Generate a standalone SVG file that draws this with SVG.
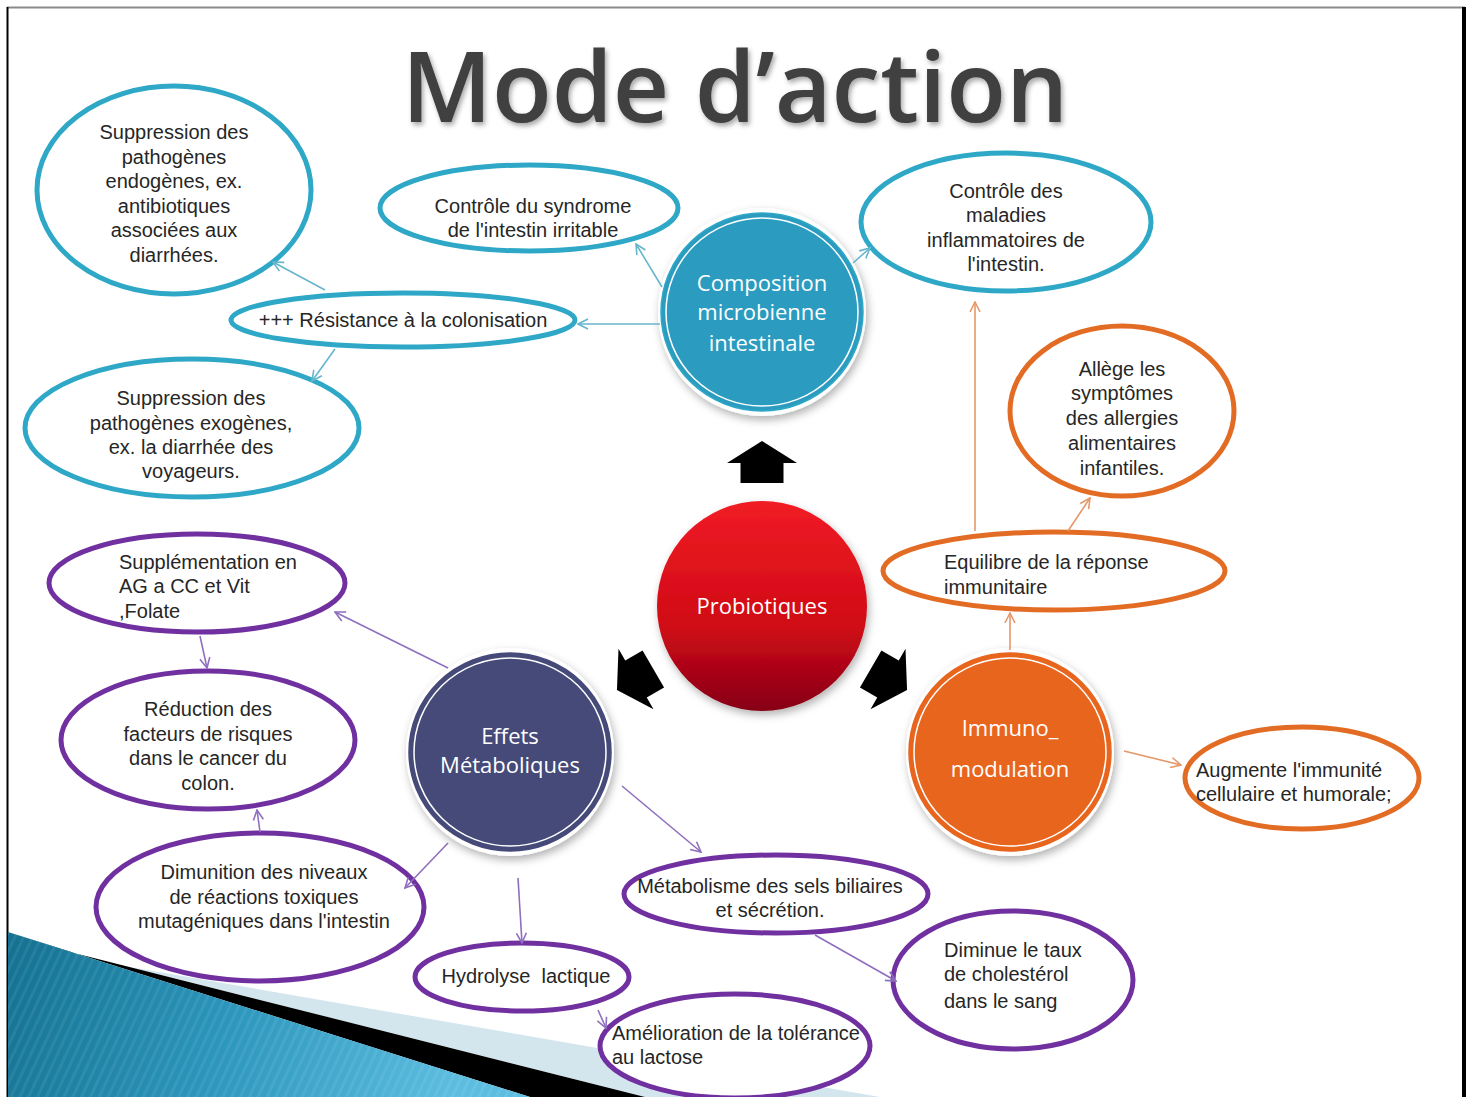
<svg xmlns="http://www.w3.org/2000/svg" width="1472" height="1097" viewBox="0 0 1472 1097">
<defs>
<style>
.lbl{font-family:"Liberation Sans",Arial,sans-serif;font-size:20px;fill:#262626;}
.c{text-anchor:middle;}
.big{font-family:"Open Sans","Noto Sans",sans-serif;font-size:22px;fill:#ffffff;text-anchor:middle;}
.et{fill:#ffffff;stroke:#2ea8c6;stroke-width:5;}
.eo{fill:#ffffff;stroke:#e36c25;stroke-width:5;}
.ep{fill:#ffffff;stroke:#7030a0;stroke-width:5;}
.lt{fill:none;stroke:#66b6cc;stroke-width:1.6;marker-end:url(#mt);}
.lo{fill:none;stroke:#e4986a;stroke-width:1.6;marker-end:url(#mo);}
.lp{fill:none;stroke:#8f6fbf;stroke-width:1.6;marker-end:url(#mp);}
.blk{fill:#000000;}
</style>
<marker id="mt" viewBox="0 0 12 12" refX="11" refY="6" markerWidth="12" markerHeight="12" markerUnits="userSpaceOnUse" orient="auto"><path d="M1,1 L11,6 L1,11" fill="none" stroke="#66b6cc" stroke-width="1.6"/></marker>
<marker id="mo" viewBox="0 0 12 12" refX="11" refY="6" markerWidth="12" markerHeight="12" markerUnits="userSpaceOnUse" orient="auto"><path d="M1,1 L11,6 L1,11" fill="none" stroke="#e4986a" stroke-width="1.6"/></marker>
<marker id="mp" viewBox="0 0 12 12" refX="11" refY="6" markerWidth="12" markerHeight="12" markerUnits="userSpaceOnUse" orient="auto"><path d="M1,1 L11,6 L1,11" fill="none" stroke="#8f6fbf" stroke-width="1.6"/></marker>
<filter id="sh" x="-20%" y="-20%" width="140%" height="140%"><feDropShadow dx="2" dy="4" stdDeviation="4" flood-color="#000" flood-opacity="0.3"/></filter>
<filter id="tsh" x="-5%" y="-10%" width="110%" height="130%"><feDropShadow dx="2" dy="3" stdDeviation="2.5" flood-color="#000" flood-opacity="0.35"/></filter>
<linearGradient id="gr" x1="0" y1="0" x2="0" y2="1"><stop offset="0" stop-color="#f01c24"/><stop offset="0.6" stop-color="#d00a16"/><stop offset="1" stop-color="#860012"/></linearGradient>
<linearGradient id="gb" x1="0" y1="930" x2="450" y2="1097" gradientUnits="userSpaceOnUse"><stop offset="0" stop-color="#136f8e"/><stop offset="0.5" stop-color="#2b95bb"/><stop offset="1" stop-color="#5cbde0"/></linearGradient>
<pattern id="stripes" width="8" height="8" patternUnits="userSpaceOnUse" patternTransform="rotate(25)"><rect width="3" height="8" fill="#ffffff" fill-opacity="0.07"/></pattern>
</defs>
<rect width="1472" height="1097" fill="#ffffff"/>
<!-- frame -->
<line x1="7" y1="7.5" x2="1465" y2="7.5" stroke="#8a8a8a" stroke-width="2"/>
<line x1="7.5" y1="7" x2="7.5" y2="1097" stroke="#000" stroke-width="2"/>
<line x1="1464" y1="7" x2="1464" y2="1097" stroke="#000" stroke-width="4"/>
<!-- bottom-left decoration -->
<g id="decoration">
<polygon points="130,967 880,1097 645,1097 70,952" fill="#d3e5ed"/>
<polygon points="70,952 645,1097 530,1097 8,932" fill="#000000"/>
<polygon points="8,932 530,1097 8,1097" fill="url(#gb)"/>
<polygon points="8,932 530,1097 8,1097" fill="url(#stripes)"/>
</g>
<!-- title -->
<text x="735" y="122" font-family="'Open Sans','Noto Sans',sans-serif" font-size="98" font-weight="600" fill="#404040" text-anchor="middle" filter="url(#tsh)">Mode d’action</text>
<!-- block arrows -->
<g id="arrow-up"><polygon class="blk" transform="translate(762,463)" points="0,-22 35,0 21.5,0 21.5,20 -21.5,20 -21.5,0 -35,0"/></g>
<g id="arrow-left"><polygon class="blk" transform="translate(636,679) rotate(-120)" points="0,-22 35,0 21.5,0 21.5,20 -21.5,20 -21.5,0 -35,0"/></g>
<g id="arrow-right"><polygon class="blk" transform="translate(888,679) rotate(120)" points="0,-22 35,0 21.5,0 21.5,20 -21.5,20 -21.5,0 -35,0"/></g>
<!-- main circles -->
<g id="n-composition">
<circle cx="762" cy="312" r="104" fill="#ffffff" filter="url(#sh)"/>
<ellipse cx="762" cy="312" rx="101" ry="99" fill="#2b9cc0" stroke="#2ea8c6" stroke-width="1.5"/>
<ellipse cx="762" cy="312" rx="96" ry="94" fill="none" stroke="#ffffff" stroke-width="1.5"/>
<text class="big" x="762" y="291">Composition</text>
<text class="big" x="762" y="320">microbienne</text>
<text class="big" x="762" y="351">intestinale</text>
</g>
<g id="n-probiotiques">
<circle cx="762" cy="606" r="105" fill="url(#gr)" filter="url(#sh)"/>
<text class="big" x="762" y="614">Probiotiques</text>
</g>
<g id="n-effets">
<circle cx="510" cy="752" r="104" fill="#ffffff" filter="url(#sh)"/>
<ellipse cx="510" cy="752" rx="101" ry="99" fill="#454a79" stroke="#454a79" stroke-width="1.5"/>
<ellipse cx="510" cy="752" rx="96" ry="94" fill="none" stroke="#ffffff" stroke-width="1.5"/>
<text class="big" x="510" y="744">Effets</text>
<text class="big" x="510" y="773">Métaboliques</text>
</g>
<g id="n-immuno">
<circle cx="1010" cy="752" r="104" fill="#ffffff" filter="url(#sh)"/>
<ellipse cx="1010" cy="752" rx="101" ry="99" fill="#e8651e" stroke="#e8651e" stroke-width="1.5"/>
<ellipse cx="1010" cy="752" rx="96" ry="94" fill="none" stroke="#ffffff" stroke-width="1.5"/>
<text class="big" x="1010" y="736">Immuno_</text>
<text class="big" x="1010" y="777">modulation</text>
</g>
<!-- teal ellipses -->
<g id="n-endogenes">
<ellipse class="et" cx="174" cy="190" rx="137" ry="104"/>
<text class="lbl c" x="174" y="139">Suppression des</text>
<text class="lbl c" x="174" y="164">pathogènes</text>
<text class="lbl c" x="174" y="188">endogènes, ex.</text>
<text class="lbl c" x="174" y="213">antibiotiques</text>
<text class="lbl c" x="174" y="237">associées aux</text>
<text class="lbl c" x="174" y="262">diarrhées.</text>
</g>
<g id="n-syndrome">
<ellipse class="et" cx="529" cy="208" rx="149" ry="43"/>
<text class="lbl c" x="533" y="213">Contrôle du syndrome</text>
<text class="lbl c" x="533" y="237">de l'intestin irritable</text>
</g>
<g id="n-resistance">
<ellipse class="et" cx="403" cy="320" rx="172" ry="27"/>
<text class="lbl c" x="403" y="327">+++ Résistance à la colonisation</text>
</g>
<g id="n-exogenes">
<ellipse class="et" cx="192" cy="428" rx="167" ry="69"/>
<text class="lbl c" x="191" y="405">Suppression des</text>
<text class="lbl c" x="191" y="430">pathogènes exogènes,</text>
<text class="lbl c" x="191" y="454">ex. la diarrhée des</text>
<text class="lbl c" x="191" y="478">voyageurs.</text>
</g>
<g id="n-maladies">
<ellipse class="et" cx="1006" cy="222" rx="145" ry="69"/>
<text class="lbl c" x="1006" y="198">Contrôle des</text>
<text class="lbl c" x="1006" y="222">maladies</text>
<text class="lbl c" x="1006" y="247">inflammatoires de</text>
<text class="lbl c" x="1006" y="271">l'intestin.</text>
</g>
<!-- orange ellipses -->
<g id="n-allergies">
<ellipse class="eo" cx="1122" cy="411" rx="112" ry="85"/>
<text class="lbl c" x="1122" y="376">Allège les</text>
<text class="lbl c" x="1122" y="400">symptômes</text>
<text class="lbl c" x="1122" y="425">des allergies</text>
<text class="lbl c" x="1122" y="450">alimentaires</text>
<text class="lbl c" x="1122" y="475">infantiles.</text>
</g>
<g id="n-equilibre">
<ellipse class="eo" cx="1054" cy="571" rx="171" ry="39"/>
<text class="lbl" x="944" y="569">Equilibre de la réponse</text>
<text class="lbl" x="944" y="594">immunitaire</text>
</g>
<g id="n-augmente">
<ellipse class="eo" cx="1302" cy="778" rx="117" ry="51"/>
<text class="lbl" x="1196" y="777">Augmente l'immunité</text>
<text class="lbl" x="1196" y="801">cellulaire et humorale;</text>
</g>
<!-- purple ellipses -->
<g id="n-supplementation">
<ellipse class="ep" cx="197" cy="583" rx="148" ry="49"/>
<text class="lbl" x="119" y="569">Supplémentation en</text>
<text class="lbl" x="119" y="593">AG a CC et Vit</text>
<text class="lbl" x="119" y="618">,Folate</text>
</g>
<g id="n-reduction">
<ellipse class="ep" cx="208" cy="740" rx="147" ry="69"/>
<text class="lbl c" x="208" y="716">Réduction des</text>
<text class="lbl c" x="208" y="741">facteurs de risques</text>
<text class="lbl c" x="208" y="765">dans le cancer du</text>
<text class="lbl c" x="208" y="790">colon.</text>
</g>
<g id="n-dimunition">
<ellipse class="ep" cx="260" cy="907" rx="164" ry="74"/>
<text class="lbl c" x="264" y="879">Dimunition des niveaux</text>
<text class="lbl c" x="264" y="904">de réactions toxiques</text>
<text class="lbl c" x="264" y="928">mutagéniques dans l'intestin</text>
</g>
<g id="n-hydrolyse">
<ellipse class="ep" cx="522" cy="977" rx="107" ry="34"/>
<text class="lbl c" x="526" y="983" xml:space="preserve">Hydrolyse  lactique</text>
</g>
<g id="n-amelioration">
<ellipse class="ep" cx="735" cy="1046" rx="135" ry="52"/>
<text class="lbl" x="612" y="1040">Amélioration de la tolérance</text>
<text class="lbl" x="612" y="1064">au lactose</text>
</g>
<g id="n-metabolisme">
<ellipse class="ep" cx="776" cy="894" rx="152" ry="39"/>
<text class="lbl c" x="770" y="893">Métabolisme des sels biliaires</text>
<text class="lbl c" x="770" y="917">et sécrétion.</text>
</g>
<g id="n-cholesterol">
<ellipse class="ep" cx="1013" cy="980" rx="120" ry="69"/>
<text class="lbl" x="944" y="957">Diminue le taux</text>
<text class="lbl" x="944" y="981">de cholestérol</text>
<text class="lbl" x="944" y="1008">dans le sang</text>
</g>
<!-- connectors -->
<g id="connectors">
<line class="lt" x1="660" y1="324" x2="578" y2="324"/>
<line class="lt" x1="662" y1="287" x2="636" y2="244"/>
<line class="lt" x1="853" y1="263" x2="870" y2="248"/>
<line class="lt" x1="325" y1="290" x2="273" y2="262"/>
<line class="lt" x1="335" y1="349" x2="312" y2="381"/>
<line class="lo" x1="975" y1="531" x2="975" y2="302"/>
<line class="lo" x1="1068" y1="531" x2="1090" y2="498"/>
<line class="lo" x1="1010" y1="650" x2="1010" y2="613"/>
<line class="lo" x1="1124" y1="751" x2="1181" y2="765"/>
<line class="lp" x1="448" y1="668" x2="335" y2="612"/>
<line class="lp" x1="200" y1="636" x2="207" y2="668"/>
<line class="lp" x1="260" y1="832" x2="257" y2="810"/>
<line class="lp" x1="448" y1="843" x2="405" y2="888"/>
<line class="lp" x1="518" y1="878" x2="522" y2="943"/>
<line class="lp" x1="622" y1="786" x2="701" y2="852"/>
<line class="lp" x1="815" y1="935" x2="896" y2="981"/>
<line class="lp" x1="598" y1="1010" x2="606" y2="1028"/>
</g>
</svg>
